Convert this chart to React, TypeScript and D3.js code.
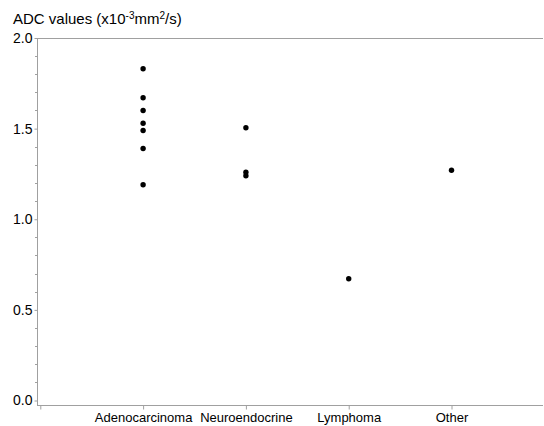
import React, { useEffect, useRef } from 'react';
import * as d3 from 'd3';

const categories = ['Adenocarcinoma', 'Neuroendocrine', 'Lymphoma', 'Other'];
const adenocarcinoma = [1.83, 1.67, 1.6, 1.53, 1.49, 1.39, 1.19];
const neuroendocrine = [1.505, 1.26, 1.24];
const lymphoma = [0.672];
const other = [1.27];
const seriesValues = [adenocarcinoma, neuroendocrine, lymphoma, other];
const yTicks = [0, 0.5, 1.0, 1.5, 2.0];

const App = () => {
  const ref = useRef<SVGSVGElement>(null);

  useEffect(() => {
    const width = 544;
    const height = 426;
    const left = 37;
    const right = 543;
    const top = 38;
    const bottom = 405;
    const axisColor = '#a0a0a0';
    const font = 'Arial, "Liberation Sans", sans-serif';

    const svg = d3.select(ref.current);
    svg.selectAll('*').remove();
    svg.attr('width', width).attr('height', height);

    // x: category index 1..4 on a linear scale, 0 at the first tick
    const xScale = d3.scaleLinear().domain([0, 4.89]).range([40.3, right]);
    const yScale = d3.scaleLinear().domain([0, 2]).range([400.5, top]);

    // Frame lines
    svg.append('line')
      .attr('x1', left).attr('x2', right).attr('y1', top + 0.5).attr('y2', top + 0.5)
      .attr('stroke', axisColor);
    svg.append('line')
      .attr('x1', left + 0.5).attr('x2', left + 0.5).attr('y1', top).attr('y2', bottom)
      .attr('stroke', axisColor);
    svg.append('line')
      .attr('x1', left).attr('x2', right).attr('y1', bottom + 0.5).attr('y2', bottom + 0.5)
      .attr('stroke', axisColor);

    // Y axis
    const yAxis = svg.append('g')
      .attr('transform', `translate(${left + 0.5},0)`)
      .call(d3.axisLeft(yScale).tickValues(yTicks).tickFormat(d3.format('.1f')).tickSize(3).tickPadding(2));
    yAxis.select('.domain').remove();
    yAxis.selectAll('line').attr('stroke', axisColor);
    yAxis.selectAll('text')
      .attr('fill', '#000')
      .style('font-family', font)
      .style('font-size', '14px');

    // minor y ticks
    const minor = d3.range(0, 2.0001, 0.1).filter(v => Math.abs(v * 2 - Math.round(v * 2)) > 1e-6);
    svg.append('g').selectAll('line')
      .data(minor)
      .enter().append('line')
      .attr('x1', left - 2).attr('x2', left)
      .attr('y1', d => Math.round(yScale(d)) + 0.5)
      .attr('y2', d => Math.round(yScale(d)) + 0.5)
      .attr('stroke', axisColor);

    // X axis
    const xAxis = svg.append('g')
      .attr('transform', `translate(0,${bottom + 0.5})`)
      .call(d3.axisBottom(xScale)
        .tickValues([0, 1, 2, 3, 4])
        .tickFormat((d: any) => (d === 0 ? '' : categories[d - 1]))
        .tickSize(4)
        .tickPadding(3));
    xAxis.select('.domain').remove();
    xAxis.selectAll('line').attr('stroke', axisColor);
    xAxis.selectAll('text')
      .attr('fill', '#000')
      .style('font-family', font)
      .style('font-size', '13px');

    // Points
    const points = seriesValues.flatMap((vals, i) => vals.map(v => ({ c: i + 1, v })));
    svg.append('g').selectAll('circle')
      .data(points)
      .enter().append('circle')
      .attr('cx', d => xScale(d.c))
      .attr('cy', d => yScale(d.v))
      .attr('r', 2.7)
      .attr('fill', '#000');

    // Title
    const title = svg.append('text')
      .attr('x', 13)
      .attr('y', 24)
      .attr('fill', '#000')
      .style('font-family', font)
      .style('font-size', '15px');
    title.append('tspan').text('ADC values (x10');
    title.append('tspan').attr('dy', -5).style('font-size', '10px').text('-3');
    title.append('tspan').attr('dy', 5).text('mm');
    title.append('tspan').attr('dy', -5).style('font-size', '10px').text('2');
    title.append('tspan').attr('dy', 5).text('/s)');
  }, []);

  return <svg ref={ref} style={{ position: 'absolute', left: 0, top: 0, background: '#fff' }} />;
};

export default App;
